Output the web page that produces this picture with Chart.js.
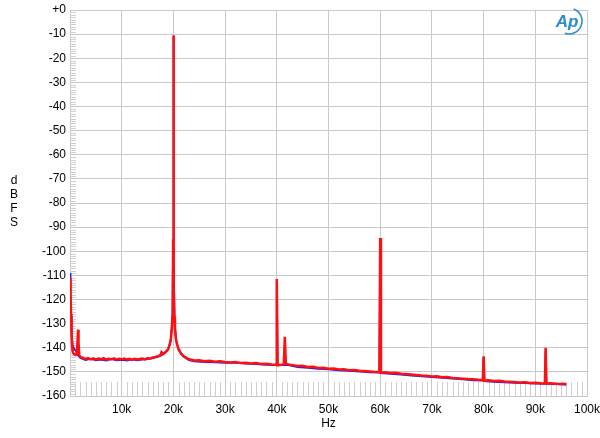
<!DOCTYPE html>
<html lang="en">
<head>
  <meta charset="UTF-8">
  <title>FFT spectrum</title>
  <style>
    html, body { margin: 0; padding: 0; background: white; }
    .chart-wrapper { width: 600px; height: 438px; }
  </style>
</head>
<body>
  <div class="chart-wrapper">
    <canvas id="fft-chart" width="600" height="438"></canvas>
  </div>

  <script src="https://cdn.jsdelivr.net/npm/chart.js@4.4.1/dist/chart.umd.min.js"></script>
  <script>
    // frequency in kHz, level in dBFS
    const RED_FREQ = [
      0, 0.1, 0.2, 0.3, 0.4, 0.5, 0.7, 0.9, 1.1, 1.3, 1.45, 1.55, 1.65, 1.8, 2.0,
      2.5, 3, 3.5, 4, 4.5, 5, 5.5, 6, 6.5, 7, 7.5, 8, 8.5, 9, 9.5, 10,
      10.5, 11, 11.5, 12, 12.5, 13, 13.5, 14, 14.5, 15, 15.5, 16, 16.5, 17, 17.5, 17.7, 18, 18.5, 19,
      19.3, 19.5, 19.7, 19.8, 19.9, 19.95, 20.0, 20.05, 20.1, 20.2, 20.3, 20.5, 20.7, 21, 21.5, 22, 22.5, 23, 23.5, 24,
      25, 26, 27, 28, 29, 30, 31, 32, 33, 34, 35, 36, 37, 38, 39, 39.85, 40.0, 40.15,
      41, 41.35, 41.55, 41.75, 42, 43, 44, 45, 46, 47, 48, 49, 50,
      51, 52, 53, 54, 55, 56, 57, 58, 59, 59.85, 60.0, 60.15,
      61, 62, 63, 64, 65, 66, 67, 68, 69, 70, 71, 72, 73, 74, 75, 76, 77, 78, 79, 79.85, 80.0, 80.15,
      81, 82, 83, 84, 85, 86, 87, 88, 89, 90, 91, 91.85, 92.0, 92.15, 93, 94, 95, 95.5, 96
    ];
    const RED_LEVEL = [
      -111, -118, -127, -134, -139, -141.5, -142.5, -142.8, -143, -142.5, -138, -132.5, -138, -143, -143.8,
      -144.2, -144.6, -144.3, -144.8, -144.4, -144.9, -144.5, -144.7, -144.3, -144.9, -144.6, -144.8, -144.4, -144.9, -144.6, -144.8,
      -144.5, -144.9, -144.6, -145.0, -144.6, -144.9, -144.7, -144.5, -144.8, -144.3, -144.5, -144.0, -143.8, -143.5, -143.1, -141.8, -142.5, -141.8, -140.5,
      -138.5, -136.5, -132, -127, -115, -95, -10.5, -95, -115, -127, -132, -136.5, -138.5, -140.5, -142.5, -143.5, -144.2, -144.8, -145, -145.3,
      -145.2, -145.6, -145.4, -145.8, -145.6, -145.9, -146.1, -145.9, -146.3, -146.2, -146.5, -146.3, -146.7, -146.6, -146.9, -147, -111.5, -147.2,
      -147.1, -146.8, -135.5, -146.5, -146.8, -147.2, -147.6, -147.5, -148, -147.9, -148.4, -148.3, -148.7,
      -148.6, -149, -148.9, -149.3, -149.2, -149.5, -149.6, -149.8, -150, -150.1, -94.5, -150.4,
      -150.2, -150.5, -150.4, -150.8, -150.9, -151.1, -151.3, -151.5, -151.6, -151.9, -151.8, -152.2, -152.1, -152.5, -152.6, -152.8, -153, -153.1, -153.3, -153.4, -143.5, -153.6,
      -153.5, -153.8, -153.7, -154, -154.1, -154.2, -154.4, -154.3, -154.6, -154.5, -154.7, -154.8, -140, -154.8, -154.7, -154.9, -155, -154.9, -155.1
    ];

    const BLUE_FREQ = [
      0, 0.1, 0.2, 0.3, 0.5, 0.7, 0.9, 1.1, 1.3, 1.5, 1.7, 2, 3, 4, 5, 6, 7, 8, 9, 10,
      11, 12, 13, 14, 15, 16, 17, 18, 19, 19.5, 19.8, 19.95, 20.0, 20.05, 20.2, 20.5, 21, 22, 23, 24, 26, 28, 30,
      32, 34, 36, 38, 39.85, 40.0, 40.15, 42, 44, 46, 48, 50, 52, 54, 56, 58, 59.85, 60.0, 60.15,
      62, 64, 66, 68, 70, 72, 74, 76, 78, 79.85, 80.0, 80.15, 82, 84, 86, 88, 90, 91.85, 92.0, 92.15, 94, 96
    ];
    const BLUE_LEVEL = [
      -109, -117, -126, -133, -138.5, -140, -140.8, -141.2, -142, -143, -143.6, -144.2, -145.1, -144.6, -145.2, -144.9, -145.3, -144.7, -145.2, -145,
      -145.3, -144.8, -145.2, -144.9, -144.7, -144.3, -143.8, -142.8, -140.8, -136.8, -127.5, -96, -11, -96, -127.5, -136.8, -141, -143.8, -145.1, -145.6, -145.9, -146.1, -146.3,
      -146.2, -146.6, -146.8, -147.1, -147.2, -112, -147.3, -147.1, -148, -148.3, -148.7, -149, -149.4, -149.6, -149.9, -150.2, -150.3, -95, -150.5,
      -150.8, -151.1, -151.5, -151.9, -152.2, -152.5, -152.8, -153.1, -153.5, -153.6, -144, -153.8, -154.1, -154.3, -154.6, -154.7, -154.9, -155, -141, -155, -155.1, -155.3
    ];

    const Y_MIN = -160;
    const Y_MAX = 0;
    const X_MIN = 0;
    const X_MAX = 100;
    const GRID_COLOR = '#c9c9c9';

    Chart.defaults.font.family = '"Liberation Sans", Arial, sans-serif';
    Chart.defaults.color = '#000';

    const toPoints = (xs, ys) => xs.map((x, i) => ({ x, y: ys[i] }));

    // small inner ticks (1 dB on the left, 1 kHz at the bottom), axis title letters, Ap logo
    const decorPlugin = {
      id: 'decor',
      beforeDatasetsDraw(chart) {
        const { ctx, scales: { x, y } } = chart;
        ctx.save();
        ctx.strokeStyle = '#cfcfcf';
        ctx.lineWidth = 1;
        ctx.beginPath();
        for (let v = Y_MIN; v <= Y_MAX; v += 1) {
          if (v % 10 === 0) continue;
          const py = Math.round(y.getPixelForValue(v)) + 0.5;
          ctx.moveTo(x.left, py);
          ctx.lineTo(x.left + 6, py);
        }
        for (let k = 1; k < X_MAX; k++) {
          if (k % 10 === 0) continue;
          const px = Math.round(x.getPixelForValue(k)) + 0.5;
          ctx.moveTo(px, y.bottom);
          ctx.lineTo(px, y.getPixelForValue(-154.2));
        }
        ctx.stroke();
        ctx.restore();
      },
      afterDraw(chart) {
        const { ctx, scales: { x } } = chart;
        ctx.save();
        ctx.fillStyle = '#000';
        ctx.font = '12px "Liberation Sans", Arial, sans-serif';
        ctx.textAlign = 'center';
        ctx.textBaseline = 'middle';
        ['d', 'B', 'F', 'S'].forEach((c, i) => ctx.fillText(c, 14, 181 + i * 14));
        ctx.fillText('Hz', (x.left + x.right) / 2, 424);

        // Ap logo
        ctx.fillStyle = '#2b8bd0';
        ctx.strokeStyle = '#2b8bd0';
        ctx.font = 'italic bold 17px "Liberation Sans", Arial, sans-serif';
        ctx.fillText('Ap', 567, 22);
        ctx.lineWidth = 1.6;
        ctx.beginPath();
        ctx.arc(569, 21, 13, -1.2, 1.9);
        ctx.stroke();
        ctx.restore();
      }
    };

    const chart = new Chart(document.getElementById('fft-chart'), {
      type: 'line',
      data: {
        datasets: [
          {
            label: 'Right',
            data: toPoints(RED_FREQ, RED_LEVEL),
            borderColor: '#ff1010',
            borderWidth: 2.5,
            pointRadius: 0,
            order: 1
          },
          {
            label: 'Left',
            data: toPoints(BLUE_FREQ, BLUE_LEVEL),
            borderColor: '#2020ff',
            borderWidth: 1.8,
            pointRadius: 0,
            order: 2
          }
        ]
      },
      plugins: [decorPlugin],
      options: {
        responsive: false,
        animation: false,
        devicePixelRatio: 1,
        layout: { padding: { left: 0, top: 10, right: 13, bottom: 0 } },
        plugins: {
          legend: { display: false },
          tooltip: { enabled: false }
        },
        scales: {
          x: {
            type: 'linear',
            min: X_MIN,
            max: X_MAX,
            afterFit: s => { s.height = 42; s.paddingLeft = 0; s.paddingRight = 0; },
            grid: { color: GRID_COLOR, drawTicks: false },
            border: { color: GRID_COLOR },
            ticks: {
              stepSize: 10,
              padding: 6,
              maxRotation: 0,
              font: { size: 12 },
              callback: v => v === 0 ? '' : v + 'k'
            }
          },
          y: {
            type: 'linear',
            min: Y_MIN,
            max: Y_MAX,
            afterFit: s => { s.width = 70; s.paddingTop = 0; s.paddingBottom = 0; },
            grid: { color: GRID_COLOR, drawTicks: false },
            border: { color: GRID_COLOR },
            ticks: {
              stepSize: 10,
              padding: 4,
              font: { size: 12 },
              callback: v => v === 0 ? '+0' : v
            }
          }
        }
      }
    });
  </script>
</body>
</html>
